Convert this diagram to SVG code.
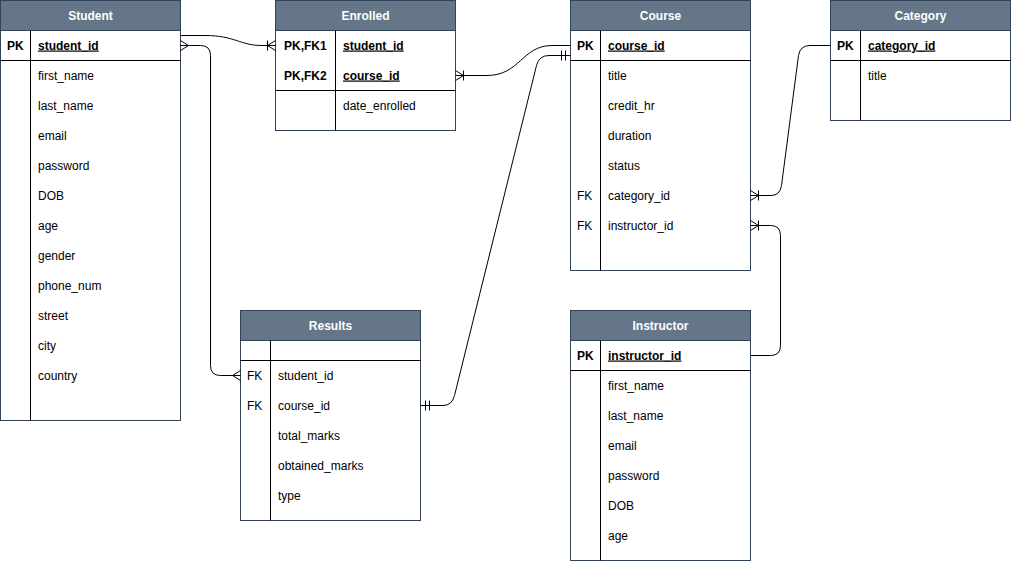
<svg xmlns="http://www.w3.org/2000/svg" width="1011" height="561" viewBox="0 0 1011 561">
<style>
.box{fill:#ffffff;stroke:#314354;stroke-width:1}
.hdr{fill:#647687;stroke:#314354;stroke-width:1}
.ln{stroke:#000000;stroke-width:1;fill:none}
.ht{font-family:"Liberation Sans",Arial,sans-serif;font-size:12px;font-weight:bold;fill:#ffffff;text-anchor:middle}
.t{font-family:"Liberation Sans",Arial,sans-serif;font-size:12px;fill:#000000}
.k{font-family:"Liberation Sans",Arial,sans-serif;font-size:12px;fill:#000000}
.pk{font-weight:bold;text-decoration:underline}
.c{stroke:#000000;stroke-width:1;fill:none}
</style>
<rect width="1011" height="561" fill="#ffffff"/>

<g id="Student">
<rect class="box" x="0.5" y="0.5" width="180" height="420"/>
<rect class="hdr" x="0.5" y="0.5" width="180" height="30"/>
<text class="ht" x="90.5" y="20">Student</text>
<line class="ln" x1="30.5" y1="30.5" x2="30.5" y2="420.5"/>
<line class="ln" x1="0.5" y1="60.5" x2="180.5" y2="60.5"/>
<text class="k" x="7" y="49.5" font-weight="bold">PK</text>
<text class="t pk" x="38" y="49.5">student_id</text>
<text class="t" x="38" y="79.5">first_name</text>
<text class="t" x="38" y="109.5">last_name</text>
<text class="t" x="38" y="139.5">email</text>
<text class="t" x="38" y="169.5">password</text>
<text class="t" x="38" y="199.5">DOB</text>
<text class="t" x="38" y="229.5">age</text>
<text class="t" x="38" y="259.5">gender</text>
<text class="t" x="38" y="289.5">phone_num</text>
<text class="t" x="38" y="319.5">street</text>
<text class="t" x="38" y="349.5">city</text>
<text class="t" x="38" y="379.5">country</text>
</g>

<g id="Enrolled">
<rect class="box" x="275.5" y="0.5" width="180" height="130"/>
<rect class="hdr" x="275.5" y="0.5" width="180" height="30"/>
<text class="ht" x="365.5" y="20">Enrolled</text>
<line class="ln" x1="335.5" y1="30.5" x2="335.5" y2="130.5"/>
<line class="ln" x1="275.5" y1="90.5" x2="455.5" y2="90.5"/>
<text class="k" x="284" y="49.5" font-weight="bold">PK,FK1</text>
<text class="t pk" x="343" y="49.5">student_id</text>
<text class="k" x="284" y="79.5" font-weight="bold">PK,FK2</text>
<text class="t pk" x="343" y="79.5">course_id</text>
<text class="t" x="343" y="109.5">date_enrolled</text>
</g>

<g id="Course">
<rect class="box" x="570.5" y="0.5" width="180" height="270"/>
<rect class="hdr" x="570.5" y="0.5" width="180" height="30"/>
<text class="ht" x="660.5" y="20">Course</text>
<line class="ln" x1="600.5" y1="30.5" x2="600.5" y2="270.5"/>
<line class="ln" x1="570.5" y1="60.5" x2="750.5" y2="60.5"/>
<text class="k" x="577" y="49.5" font-weight="bold">PK</text>
<text class="t pk" x="608" y="49.5">course_id</text>
<text class="t" x="608" y="79.5">title</text>
<text class="t" x="608" y="109.5">credit_hr</text>
<text class="t" x="608" y="139.5">duration</text>
<text class="t" x="608" y="169.5">status</text>
<text class="k" x="577" y="199.5">FK</text>
<text class="t" x="608" y="199.5">category_id</text>
<text class="k" x="577" y="229.5">FK</text>
<text class="t" x="608" y="229.5">instructor_id</text>
</g>

<g id="Category">
<rect class="box" x="830.5" y="0.5" width="180" height="120"/>
<rect class="hdr" x="830.5" y="0.5" width="180" height="30"/>
<text class="ht" x="920.5" y="20">Category</text>
<line class="ln" x1="860.5" y1="30.5" x2="860.5" y2="120.5"/>
<line class="ln" x1="830.5" y1="60.5" x2="1010.5" y2="60.5"/>
<text class="k" x="837" y="49.5" font-weight="bold">PK</text>
<text class="t pk" x="868" y="49.5">category_id</text>
<text class="t" x="868" y="79.5">title</text>
</g>

<g id="Results">
<rect class="box" x="240.5" y="310.5" width="180" height="210"/>
<rect class="hdr" x="240.5" y="310.5" width="180" height="30"/>
<text class="ht" x="330.5" y="330">Results</text>
<line class="ln" x1="270.5" y1="340.5" x2="270.5" y2="520.5"/>
<line class="ln" x1="240.5" y1="360.5" x2="420.5" y2="360.5"/>
<text class="k" x="247" y="379.5">FK</text>
<text class="t" x="278" y="379.5">student_id</text>
<text class="k" x="247" y="409.5">FK</text>
<text class="t" x="278" y="409.5">course_id</text>
<text class="t" x="278" y="439.5">total_marks</text>
<text class="t" x="278" y="469.5">obtained_marks</text>
<text class="t" x="278" y="499.5">type</text>
</g>

<g id="Instructor">
<rect class="box" x="570.5" y="310.5" width="180" height="250"/>
<rect class="hdr" x="570.5" y="310.5" width="180" height="30"/>
<text class="ht" x="660.5" y="330">Instructor</text>
<line class="ln" x1="600.5" y1="340.5" x2="600.5" y2="560.5"/>
<line class="ln" x1="570.5" y1="370.5" x2="750.5" y2="370.5"/>
<text class="k" x="577" y="359.5" font-weight="bold">PK</text>
<text class="t pk" x="608" y="359.5">instructor_id</text>
<text class="t" x="608" y="389.5">first_name</text>
<text class="t" x="608" y="419.5">last_name</text>
<text class="t" x="608" y="449.5">email</text>
<text class="t" x="608" y="479.5">password</text>
<text class="t" x="608" y="509.5">DOB</text>
<text class="t" x="608" y="539.5">age</text>
</g>

<g id="connectors">
<!-- Student -> Enrolled -->
<path class="c" d="M180.5,35.5 L205,35.5 C235,35.5 240,45.5 262,45.5 L275.5,45.5"/>
<path class="c" d="M267.5,40.5 L267.5,50.5 M267.5,45.5 L275.5,40.5 M267.5,45.5 L275.5,50.5"/>
<!-- Enrolled -> Course -->
<path class="c" d="M455.5,75.5 L487,75.5 C520,75.5 522,45.5 552,45.5 L570.5,45.5"/>
<path class="c" d="M463.5,70.5 L463.5,80.5 M463.5,75.5 L455.5,70.5 M463.5,75.5 L455.5,80.5"/>
<!-- Student -> Results -->
<path class="c" d="M180.5,45.5 L200.5,45.5 Q210.5,45.5 210.5,55.5 L210.5,365.5 Q210.5,375.5 220.5,375.5 L240.5,375.5"/>
<path class="c" d="M180.5,40.5 L188.5,45.5 L180.5,50.5"/>
<path class="c" d="M240.5,370.5 L232.5,375.5 L240.5,380.5"/>
<!-- Results -> Course -->
<path class="c" d="M420.5,405.5 L443,405.5 Q452,405.5 454.5,395.5 L536.5,65.5 Q539,55.5 549,55.5 L570.5,55.5"/>
<path class="c" d="M425.5,400.5 L425.5,410.5 M429.5,400.5 L429.5,410.5"/>
<path class="c" d="M561.5,50.5 L561.5,60.5 M565.5,50.5 L565.5,60.5"/>
<!-- Course -> Category -->
<path class="c" d="M750.5,195.5 L771,195.5 Q780,195.5 781.5,185.5 L798.5,55.5 Q800,45.5 810,45.5 L830.5,45.5"/>
<path class="c" d="M758.5,190.5 L758.5,200.5 M758.5,195.5 L750.5,190.5 M758.5,195.5 L750.5,200.5"/>
<!-- Course -> Instructor -->
<path class="c" d="M750.5,225.5 L770.5,225.5 Q780.5,225.5 780.5,235.5 L780.5,345.5 Q780.5,355.5 770.5,355.5 L750.5,355.5"/>
<path class="c" d="M758.5,220.5 L758.5,230.5 M758.5,225.5 L750.5,220.5 M758.5,225.5 L750.5,230.5"/>
</g>
</svg>
